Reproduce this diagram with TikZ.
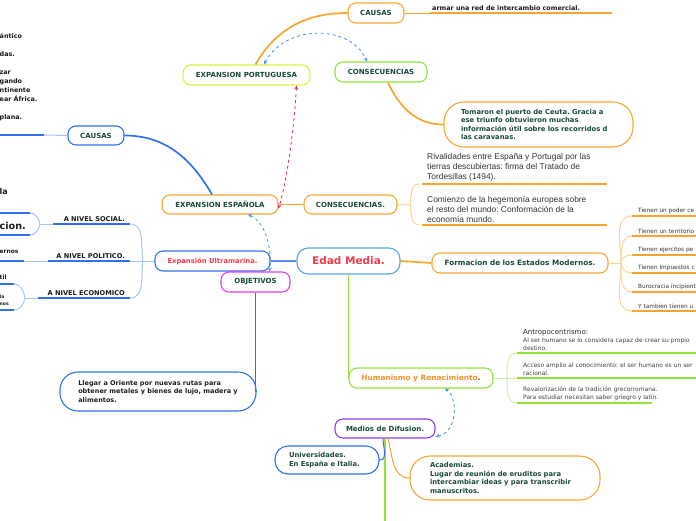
\documentclass[tikz,border=0pt]{standalone}
\usepackage{fontspec}
\setmainfont{DejaVu Sans}
\newfontfamily\arialfont{Liberation Sans}
\usetikzlibrary{shapes,arrows,positioning,calc}
\frenchspacing

\definecolor{txtgreen}{HTML}{1B4A3A}
\definecolor{mapblue}{HTML}{3370F0}
\definecolor{lightblue}{HTML}{A9C4F8}
\definecolor{centerblue}{HTML}{5AA3DE}
\definecolor{maporange}{HTML}{F9A530}
\definecolor{lightorange}{HTML}{FCD39A}
\definecolor{limegreen}{HTML}{93E23A}
\definecolor{lightlime}{HTML}{CDF3A2}
\definecolor{yellowgreen}{HTML}{DAF23E}
\definecolor{mapmagenta}{HTML}{E23EE6}
\definecolor{mappurple}{HTML}{8B3FEF}
\definecolor{mapred}{HTML}{F23B4C}
\definecolor{humorange}{HTML}{F7912E}
\definecolor{dashpink}{HTML}{E2245E}
\definecolor{dashblue}{HTML}{4A8FE6}
\definecolor{leafgray}{HTML}{333333}

\begin{document}
\begin{tikzpicture}[
  x=1pt, y=-1pt,
  topic/.style={rectangle, draw, fill=white, rounded corners=8pt, line width=1.1pt,
    align=center, inner sep=0pt, minimum height=20pt, text=txtgreen,
    font=\bfseries\fontsize{7}{8.5}\selectfont},
  bubble/.style={rectangle, draw, fill=white, line width=1.1pt, align=left,
    inner ysep=0pt, text=txtgreen, font=\bfseries\fontsize{6.8}{8.6}\selectfont},
  leaf/.style={anchor=south west, inner xsep=6pt, inner ysep=2.5pt, align=left},
  lbl/.style={anchor=south east, inner xsep=5pt, inner ysep=2.5pt, text=black!90,
    font=\bfseries\fontsize{6.6}{8}\selectfont},
  frag/.style={anchor=west, inner sep=0pt, align=left, text=black!90,
    font=\bfseries\fontsize{6.4}{9}\selectfont},
  link/.style={line width=1.7pt},
  branch/.style={line width=1pt},
  uline/.style={line width=2.2pt},
  dlink/.style={<->, >=stealth, dashed, line width=0.8pt}]
  \useasboundingbox (0,0) rectangle (696,520);

  % nodo central y temas
  \node[topic, draw=centerblue, rounded corners=11pt, minimum width=103pt, minimum height=26pt,
    text=mapred, font=\bfseries\fontsize{10.5}{12}\selectfont] (edad) at (348.5,261) {Edad Media.};
  \node[topic, draw=mapblue, minimum width=115pt, text=mapred,
    font=\bfseries\fontsize{6.8}{8}\selectfont] (ultr) at (212.5,261) {Expansión Ultramarina.};
  \node[topic, draw=mapmagenta, minimum width=69pt] (obj) at (255.5,282) {OBJETIVOS};
  \node[topic, draw=maporange, minimum width=116pt, minimum height=19pt] (esp) at (220,204.5) {EXPANSION ESPAÑOLA};
  \node[topic, draw=maporange, minimum width=93pt, minimum height=19pt] (cons2) at (350.5,204.5) {CONSECUENCIAS.};
  \node[topic, draw=mapblue, minimum width=56pt, minimum height=19pt] (caus1) at (96,135.5) {CAUSAS};
  \node[topic, draw=yellowgreen, minimum width=127pt] (port) at (246.5,75) {EXPANSION PORTUGUESA};
  \node[topic, draw=maporange, minimum width=56pt] (caus2) at (376,13) {CAUSAS};
  \node[topic, draw=limegreen, minimum width=92pt] (cons1) at (381,72) {CONSECUENCIAS};
  \node[topic, draw=maporange, minimum width=176pt,
    font=\bfseries\fontsize{7.3}{8.5}\selectfont] (form) at (520,263) {Formacion de los Estados Modernos.};
  \node[topic, draw=limegreen, minimum width=144pt, text=humorange,
    font=\bfseries\fontsize{7.4}{8.5}\selectfont] (hum) at (421,378) {Humanismo y Renacimiento\textcolor{txtgreen}{.}};
  \node[topic, draw=mappurple, minimum width=100pt, minimum height=19pt] (med) at (385,428.5) {Medios de Difusion.};

  % globos de texto
  \node[bubble, draw=maporange, rounded corners=20pt, text width=155pt, inner xsep=17pt,
    minimum height=45pt] (tom) at (538.5,124.5)
    {Tomaron el puerto de Ceuta. Gracia a\\ese triunfo obtuvieron muchas\\información útil sobre los recorridos d\\las caravanas.};
  \node[bubble, draw=mapblue, rounded corners=18pt, minimum width=196pt,
    minimum height=39pt, text=black!88, font=\bfseries\fontsize{6.5}{8.6}\selectfont] (lleg) at (158,391.5)
    {Llegar a Oriente por nuevas rutas para\\obtener metales y bienes de lujo, madera y\\alimentos.};
  \node[bubble, draw=mapblue, rounded corners=13pt, text width=76pt, inner xsep=14pt,
    minimum height=28pt] (univ) at (327,460) {Universidades.\\En España e Italia.};
  \node[bubble, draw=maporange, rounded corners=20pt, text width=150pt, inner xsep=20pt,
    minimum height=44pt] (acad) at (505,478)
    {Academias.\\Lugar de reunión de eruditos para\\intercambiar ideas y para transcribir\\manuscritos.};

  % hojas subrayadas
  \node[leaf, inner xsep=2pt, text=black!90, font=\bfseries\fontsize{6.4}{8}\selectfont]
    (armar) at (430,13) {armar una red de intercambio comercial.};
  \node[leaf, inner xsep=8pt, text=leafgray, font=\arialfont\fontsize{8.4}{10}\selectfont]
    (riv) at (419,184) {Rivalidades entre España y Portugal por las\\tierras descubiertas: firma del Tratado de\\Tordesillas (1494).};
  \node[leaf, inner xsep=8pt, text=leafgray, font=\arialfont\fontsize{8.4}{10}\selectfont]
    (com) at (419,225) {Comienzo de la hegemonía europea sobre\\el resto del mundo: Conformación de la\\economía mundo.};
  \node[leaf, text=leafgray, font=\fontsize{5.8}{7}\selectfont] (t1) at (632,216) {Tienen un poder ce};
  \node[leaf, text=leafgray, font=\fontsize{5.8}{7}\selectfont] (t2) at (632,236) {Tienen un territorio};
  \node[leaf, text=leafgray, font=\fontsize{5.8}{7}\selectfont] (t3) at (632,255) {Tienen ejercitos pe};
  \node[leaf, text=leafgray, font=\fontsize{5.8}{7}\selectfont] (t4) at (632,273) {Tienen Impuestos c};
  \node[leaf, text=leafgray, font=\fontsize{5.8}{7}\selectfont] (t5) at (632,292) {Burocracia incipient};
  \node[leaf, text=leafgray, font=\fontsize{5.8}{7}\selectfont] (t6) at (632,311) {Y tambien tienen u};
  \node[leaf, text=black!75, font=\fontsize{6}{8}\selectfont] (h1) at (517,353)
    {{\fontsize{7}{8}\selectfont\color{black!85}Antropocentrismo:}\\Al ser humano se lo considera capaz de crear su propio\\destino.};
  \node[leaf, text=black!75, font=\fontsize{6}{7.5}\selectfont] (h2) at (517,378)
    {Acceso amplio al conocimiento: el ser humano es un ser\\racional.};
  \node[leaf, text=black!75, font=\fontsize{6}{7.5}\selectfont] (h3) at (517,403)
    {Revalorización de la tradición grecorromana.\\Para estudiar necesitan saber griegro y latín.};
  \node[lbl] (soc) at (130,224) {A NIVEL SOCIAL.};
  \node[lbl] (pol) at (130,261) {A NIVEL POLITICO.};
  \node[lbl] (eco) at (130,298) {A NIVEL ECONOMICO};

  % fragmentos cortados por el borde
  \node[frag, anchor=north west] (tl) at (-0.5,33.5)
    {ántico\\~\\das.\\~\\zar\\gando\\ntinente\\ear África.\\~\\plana.};
  \node[frag, font=\bfseries\fontsize{8}{10}\selectfont] (fla) at (-0.5,192) {la};
  \node[frag, font=\bfseries\fontsize{9.6}{11}\selectfont] (fcion) at (-0.5,226) {cion.};
  \node[frag, font=\bfseries\fontsize{5.9}{7}\selectfont] (fern) at (-0.5,252) {ernos};
  \node[frag, font=\bfseries\fontsize{5.9}{7}\selectfont] (ftil) at (-0.5,277) {til};
  \node[frag, font=\bfseries\fontsize{4.6}{7}\selectfont] (fnos) at (-0.5,300.5) {la\\nos};

  % coordenadas de union
  \coordinate (jultr) at (143,261);
  \coordinate (jcons) at (410,205);
  \coordinate (jform) at (621,263);
  \coordinate (jhum) at (507,378);
  \coordinate (jsoc) at (40,224);
  \coordinate (jeco) at (25,298);
  \coordinate (socL) at (53,224);
  \coordinate (polL) at (48,261);
  \coordinate (ecoL) at (38,298);
  \coordinate (sa) at (30,213);
  \coordinate (sb) at (30,235);
  \coordinate (pa) at (24,261);
  \coordinate (ea) at (14,284);
  \coordinate (eb) at (14,310);
  \coordinate (tlB) at (44,135);
  \coordinate (medD) at (385,530);

  % conectores principales
  \draw[link, mapblue!80] (ultr) -- (edad);
  \draw[link, maporange] (edad.east) -- (form.west);
  \draw[link, limegreen] (edad.south) |- (hum.west);
  \draw[link, mapblue] (obj.south) |- (lleg.east);
  \draw[link, maporange] (esp) -- (cons2);
  \draw[link, mapblue] ([xshift=-8pt]esp.north) to[out=120, in=0] (caus1.east);
  \draw[link, maporange] ([xshift=9pt]port.north) to[out=60, in=180] (caus2.west);
  \draw[link, maporange] ([xshift=7pt]cons1.south) to[out=-65, in=180] (tom.west);
  \draw[link, limegreen] (med.south) -- (medD);
  \draw[branch, mapblue] ([xshift=-2pt]med.south) to[out=-90, in=0] (univ.east);
  \draw[branch, maporange] ([xshift=3pt]med.south) to[out=-75, in=180] (acad.west);

  % ramas y subrayados
  \draw[branch, maporange] (caus2.east) -- (armar.south west);
  \draw[uline, maporange] (armar.south west) -- ++(182,0);

  \draw[branch, lightorange] (cons2.east) -- (jcons);
  \draw[branch, lightorange] (jcons) to[out=80, in=180] (riv.south west);
  \draw[branch, lightorange] (jcons) to[out=-80, in=180] (com.south west);
  \draw[uline, maporange] (riv.south west) ++(3,0) -- ++(185,0);
  \draw[uline, maporange] (com.south west) ++(3,0) -- ++(185,0);

  \draw[branch, lightorange] (form.east) -- (jform);
  \draw[branch, lightorange] (jform) to[out=90, in=180] (t1.south west);
  \draw[branch, lightorange] (jform) to[out=90, in=180] (t2.south west);
  \draw[branch, lightorange] (jform) to[out=90, in=180] (t3.south west);
  \draw[branch, lightorange] (jform) to[out=-90, in=180] (t4.south west);
  \draw[branch, lightorange] (jform) to[out=-90, in=180] (t5.south west);
  \draw[branch, lightorange] (jform) to[out=-90, in=180] (t6.south west);
  \draw[uline, maporange] (t1.south west) -- ++(70,0);
  \draw[uline, maporange] (t2.south west) -- ++(70,0);
  \draw[uline, maporange] (t3.south west) -- ++(70,0);
  \draw[uline, maporange] (t4.south west) -- ++(70,0);
  \draw[uline, maporange] (t5.south west) -- ++(70,0);
  \draw[uline, maporange] (t6.south west) -- ++(70,0);

  \draw[branch, lightlime] (hum.east) -- (jhum);
  \draw[branch, lightlime] (jhum) to[out=90, in=180] (h1.south west);
  \draw[branch, lightlime] (jhum) -- (h2.south west);
  \draw[branch, lightlime] (jhum) to[out=-90, in=180] (h3.south west);
  \draw[uline, limegreen] (h1.south west) -- ++(185,0);
  \draw[uline, limegreen] (h2.south west) -- ++(185,0);
  \draw[uline, limegreen] (h3.south west) -- ++(135,0);

  \draw[branch, lightblue] (ultr.west) -- (jultr);
  \draw[branch, lightblue] (jultr) to[out=100, in=0] (soc.south east);
  \draw[branch, lightblue] (jultr) -- (pol.south east);
  \draw[branch, lightblue] (jultr) to[out=-100, in=0] (eco.south east);
  \draw[uline, mapblue] (socL) -- (soc.south east);
  \draw[uline, mapblue] (polL) -- (pol.south east);
  \draw[uline, mapblue] (ecoL) -- (eco.south east);

  \draw[branch, lightblue] (socL) -- (jsoc);
  \draw[branch, lightblue] (jsoc) to[out=100, in=0] (sa);
  \draw[branch, lightblue] (jsoc) to[out=-100, in=0] (sb);
  \draw[uline, mapblue] (sa) -- ++(-34,0);
  \draw[uline, mapblue] (sb) -- ++(-34,0);
  \draw[branch, lightblue] (polL) -- (pa);
  \draw[uline, mapblue] (pa) -- ++(-28,0);
  \draw[branch, lightblue] (ecoL) -- (jeco);
  \draw[branch, lightblue] (jeco) to[out=100, in=0] (ea);
  \draw[branch, lightblue] (jeco) to[out=-100, in=0] (eb);
  \draw[uline, mapblue] (ea) -- ++(-18,0);
  \draw[uline, mapblue] (eb) -- ++(-18,0);
  \draw[branch, lightblue] (caus1.west) -- (tlB);
  \draw[uline, mapblue] (tlB) -- ++(-48,0);

  % relaciones punteadas
  \draw[dlink, dashblue] ([xshift=17.5pt]port.north) .. controls (285,24) and (350,24) .. ([xshift=-14pt]cons1.north);
  \draw[dlink, dashpink] ([xshift=50pt]port.south) .. controls (294,130) and (287,180) .. ([yshift=-4pt]esp.east);
  \draw[dlink, dashblue] ([xshift=28pt]esp.south) .. controls (266,222) and (272,250) .. ([xshift=14pt]obj.north);
  \draw[dlink, dashblue] ([yshift=-8pt]med.east) .. controls (458,432) and (458,398) .. ([xshift=24pt]hum.south);
\end{tikzpicture}
\end{document}
